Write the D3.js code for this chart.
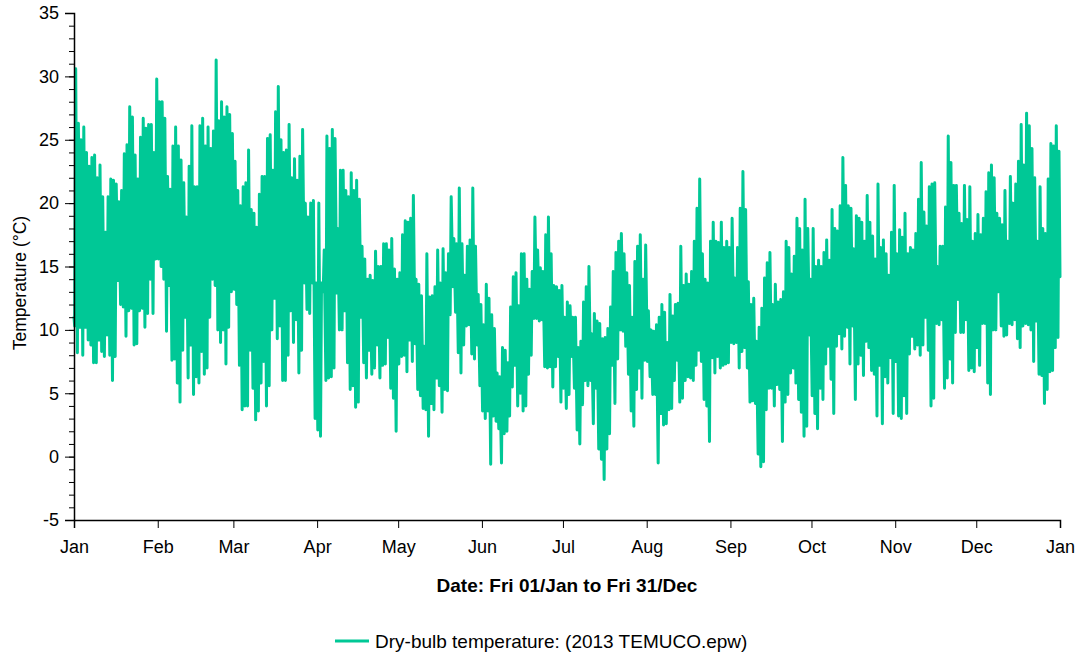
<!DOCTYPE html>
<html>
<head>
<meta charset="utf-8">
<script src="https://cdn.jsdelivr.net/npm/d3@7"></script>
<style>
  body { margin: 0; background: #fff; }
  text { font-family: "Liberation Sans", Arial, sans-serif; }
</style>
</head>
<body>
<script>
// DATA: daily high / low dry-bulb temperature (°C)
const dailyMax = [
  // Jan
  30.6, 26.3, 25.0, 26.0, 24.0, 22.9, 23.6, 23.8, 22.0, 23.0, 20.5, 17.7, 20.5, 21.9, 21.8, 21.5, 20.1, 21.0, 23.9, 24.6, 27.6, 26.8, 23.8, 21.9, 25.2, 26.7, 25.9, 26.2, 26.2, 24.0, 29.8,
  // Feb
  28.0, 28.0, 26.7, 22.1, 21.1, 24.5, 26.0, 24.5, 23.4, 21.6, 18.9, 22.9, 26.1, 21.3, 21.3, 26.1, 26.7, 24.5, 26.0, 24.3, 25.7, 31.3, 26.5, 28.0, 26.8, 27.6, 27.0, 25.5,
  // Mar
  23.3, 21.0, 19.8, 21.3, 21.6, 24.2, 19.5, 19.2, 18.1, 20.7, 22.1, 22.1, 25.1, 25.4, 22.6, 27.2, 29.2, 25.0, 24.0, 24.2, 26.2, 22.0, 23.5, 21.8, 23.7, 25.8, 20.0, 18.9, 20.0, 20.2, 13.7,
  // Apr
  20.0, 13.7, 16.3, 25.3, 24.3, 25.8, 25.1, 18.0, 22.6, 22.6, 21.0, 20.5, 22.4, 21.0, 21.8, 20.3, 16.6, 15.6, 14.0, 14.3, 13.9, 16.2, 15.0, 15.0, 16.8, 16.8, 16.3, 17.2, 14.8, 14.0,
  // May
  14.5, 17.5, 18.6, 18.5, 18.8, 20.6, 14.0, 13.6, 12.7, 8.7, 16.0, 12.6, 12.7, 13.4, 16.3, 13.7, 16.4, 14.5, 16.0, 20.5, 17.2, 16.8, 21.2, 16.8, 14.3, 16.6, 17.1, 21.2, 16.6, 12.8, 12.0,
  // Jun
  10.4, 13.6, 12.5, 11.2, 10.1, 6.6, 6.3, 8.6, 8.4, 7.4, 11.8, 14.2, 14.5, 11.9, 16.0, 16.0, 14.0, 13.2, 14.6, 18.9, 16.3, 14.9, 14.6, 17.5, 18.9, 16.0, 13.5, 13.4, 13.1, 13.5,
  // Jul
  11.0, 12.2, 11.9, 11.0, 11.0, 8.6, 9.1, 12.2, 13.4, 15.0, 9.7, 11.3, 10.7, 10.5, 9.3, 9.4, 10.1, 11.8, 14.6, 16.1, 17.0, 17.6, 16.0, 14.5, 13.5, 11.0, 15.4, 16.6, 17.5, 14.0, 16.7,
  // Aug
  11.5, 10.0, 9.9, 10.4, 11.0, 12.0, 11.4, 9.0, 12.8, 11.1, 12.0, 12.1, 16.6, 13.5, 14.4, 13.6, 14.6, 17.0, 19.6, 21.9, 16.0, 14.0, 13.7, 17.0, 18.5, 17.0, 16.9, 18.5, 16.5, 17.0, 16.5,
  // Sep
  18.8, 14.1, 16.5, 19.6, 22.5, 19.5, 13.8, 12.0, 12.5, 9.1, 10.2, 11.7, 14.1, 15.3, 16.1, 12.0, 13.6, 12.2, 12.4, 13.0, 17.0, 16.5, 14.4, 15.8, 18.8, 18.0, 16.3, 20.3, 18.0, 14.0,
  // Oct
  18.0, 15.0, 15.5, 15.0, 16.1, 17.1, 15.5, 19.5, 18.0, 17.8, 19.8, 23.6, 21.4, 19.8, 19.6, 16.4, 19.0, 18.8, 18.5, 17.0, 20.6, 18.5, 17.4, 15.6, 21.5, 16.5, 17.1, 16.0, 14.3, 17.7, 21.4,
  // Nov
  16.0, 17.9, 17.3, 19.2, 16.0, 16.5, 16.3, 17.6, 20.3, 23.2, 19.3, 18.2, 21.3, 21.5, 21.6, 15.0, 16.6, 16.6, 19.7, 25.3, 23.2, 21.4, 21.4, 19.2, 18.4, 21.4, 18.7, 21.3, 17.0, 17.6,
  // Dec
  19.1, 17.5, 18.8, 20.9, 22.4, 23.0, 22.0, 19.2, 18.8, 18.3, 21.0, 17.0, 22.1, 20.0, 21.5, 23.3, 26.2, 23.0, 27.1, 26.1, 24.3, 22.0, 17.0, 21.3, 18.0, 17.6, 21.9, 24.7, 24.5, 26.1, 24.1
];

const dailyMin = [
  // Jan
  10.3, 8.2, 10.2, 8.0, 10.2, 9.2, 8.8, 7.4, 7.4, 9.2, 8.3, 7.9, 9.6, 8.0, 6.0, 7.9, 13.9, 12.0, 11.8, 9.5, 11.5, 11.7, 8.8, 8.9, 11.5, 11.7, 10.2, 11.3, 14.0, 11.3, 15.6,
  // Feb
  15.6, 15.0, 14.0, 9.9, 13.5, 7.6, 7.7, 5.8, 4.3, 8.4, 11.0, 6.2, 8.8, 4.9, 6.3, 5.8, 8.3, 6.5, 7.0, 11.0, 14.0, 13.5, 10.0, 9.0, 10.0, 7.3, 10.2, 13.0,
  // Mar
  13.2, 12.0, 7.2, 3.7, 4.0, 4.0, 8.4, 5.4, 2.9, 3.6, 5.8, 7.5, 4.0, 5.6, 10.0, 12.5, 9.3, 10.3, 6.0, 6.0, 8.0, 11.5, 9.0, 10.8, 6.6, 8.4, 13.7, 11.6, 11.3, 13.7, 3.0,
  // Apr
  2.1, 1.6, 13.0, 6.0, 6.2, 6.3, 7.0, 12.9, 10.0, 10.0, 11.5, 7.4, 5.3, 5.6, 3.9, 4.3, 11.0, 7.4, 6.2, 8.4, 6.5, 7.0, 8.8, 6.2, 7.2, 7.3, 9.4, 5.4, 4.6, 2.0,
  // May
  7.3, 7.9, 8.0, 6.7, 9.2, 7.5, 8.9, 5.3, 4.8, 3.8, 3.7, 1.6, 4.2, 3.7, 6.2, 5.6, 3.5, 5.3, 5.2, 11.2, 13.4, 11.4, 8.2, 6.6, 8.8, 10.3, 10.4, 8.1, 7.7, 8.8, 5.6,
  // Jun
  3.6, 3.0, 3.6, -0.6, 3.2, 2.8, 2.2, -0.5, 1.8, 2.0, 3.2, 5.5, 7.2, 4.0, 5.0, 3.6, 4.0, 6.5, 8.0, 10.9, 10.9, 10.7, 10.8, 7.1, 7.0, 7.1, 5.5, 7.1, 7.9, 4.3,
  // Jul
  5.4, 3.8, 4.9, 7.9, 5.4, 2.1, 1.0, 4.1, 6.0, 5.6, 6.0, 2.6, 5.4, 0.6, -0.2, -1.8, 0.6, 1.8, 7.2, 4.2, 7.7, 10.0, 9.9, 8.7, 6.5, 3.6, 2.4, 5.3, 7.0, 4.6, 7.6,
  // Aug
  7.5, 6.3, 4.9, 4.9, -0.5, 3.4, 2.5, 2.6, 3.7, 3.8, 6.0, 7.6, 4.3, 4.6, 6.0, 6.3, 6.2, 6.0, 7.2, 8.4, 7.5, 4.5, 4.0, 1.2, 7.8, 6.6, 7.9, 7.0, 7.2, 7.3, 7.4,
  // Sep
  9.0, 8.9, 9.0, 7.0, 8.3, 8.6, 7.0, 4.3, 4.4, 4.2, 0.2, -0.8, -0.4, 3.7, 5.4, 5.4, 4.0, 5.7, 5.3, 1.2, 4.3, 4.9, 6.6, 7.0, 5.8, 4.5, 3.5, 1.6, 2.4, 9.6,
  // Oct
  4.8, 3.4, 2.2, 5.4, 4.5, 7.3, 8.7, 6.1, 3.4, 8.7, 9.7, 8.5, 9.5, 10.2, 7.3, 10.3, 4.5, 7.3, 8.0, 6.4, 9.1, 8.6, 6.8, 6.5, 3.2, 7.2, 2.6, 6.3, 5.8, 7.8, 3.4,
  // Nov
  7.5, 3.2, 3.0, 4.8, 3.4, 8.1, 9.5, 8.5, 8.8, 8.0, 8.8, 11.0, 8.4, 4.0, 4.6, 10.5, 10.4, 10.8, 5.4, 6.2, 7.7, 5.8, 9.8, 12.4, 9.8, 9.8, 10.8, 6.8, 7.0, 6.7,
  // Dec
  8.6, 7.2, 10.5, 10.5, 5.8, 4.9, 10.0, 10.0, 13.0, 10.3, 9.5, 9.6, 10.5, 10.4, 10.8, 9.3, 8.6, 10.3, 10.5, 10.4, 10.0, 7.5, 10.7, 6.5, 6.4, 4.2, 5.3, 6.7, 6.8, 8.6, 9.4
];

const startTemp = 11.0;   // value at 00:00 on 1 Jan
const endTemp = 14.2;     // value at 24:00 on 31 Dec

const yTickValues = [-5, 0, 5, 10, 15, 20, 25, 30, 35];
const yTickLabels = ["-5", "0", "5", "10", "15", "20", "25", "30", "35"];
const monthLabels = ["Jan", "Feb", "Mar", "Apr", "May", "Jun", "Jul", "Aug", "Sep", "Oct", "Nov", "Dec", "Jan"];

const yTitle = "Temperature (°C)";
const xTitle = "Date: Fri 01/Jan to Fri 31/Dec";
const legendLabel = "Dry-bulb temperature: (2013 TEMUCO.epw)";

// BUILD SERIES: low in the early morning, high mid-afternoon
const day0 = new Date(2013, 0, 1);
const hoursFrom = (d, h) => new Date(day0.getTime() + (d * 24 + h) * 3600 * 1000);
const series = [{date: hoursFrom(0, 0), temp: startTemp}];
dailyMax.forEach((mx, i) => {
    series.push({date: hoursFrom(i, 6), temp: dailyMin[i]});
    series.push({date: hoursFrom(i, 15), temp: mx});
});
series.push({date: hoursFrom(365, 0), temp: endTemp});

// DIMENSIONS
var margin = {top: 13, right: 16, bottom: 135, left: 74};
var width = 986;
var height = 507;

var svg = d3.select("body")
    .append("svg")
    .attr("width", 1076)
    .attr("height", 655);

var g = svg.append("g")
    .attr("transform", `translate(${margin.left}, ${margin.top})`);

// SCALES
const x = d3.scaleTime()
    .domain([day0, new Date(2014, 0, 1)])
    .range([0, width]);

const y = d3.scaleLinear()
    .domain([-5, 35])
    .range([height, 0]);

// LINE
const line = d3.line()
    .x(d => x(d.date))
    .y(d => y(d.temp));

g.append("path")
    .datum(series)
    .attr("fill", "none")
    .attr("stroke", "#00c896")
    .attr("stroke-width", 3)
    .attr("stroke-linejoin", "round")
    .attr("stroke-linecap", "round")
    .attr("d", line);

// Y AXIS: minor ticks then major ticks with labels
g.append("g")
    .call(d3.axisLeft(y).tickValues(d3.range(-5, 36, 1)).tickSize(5).tickFormat(""))
    .call(a => a.select(".domain").remove())
    .selectAll("line").attr("stroke", "#000");

const yAxis = g.append("g")
    .call(d3.axisLeft(y).tickValues(yTickValues).tickSize(9).tickPadding(6)
        .tickFormat((d, i) => yTickLabels[i]));
yAxis.selectAll("text").attr("font-size", 18).attr("fill", "#000");
yAxis.select(".domain").attr("stroke", "#000").attr("stroke-width", 1.5);

// X AXIS
const monthTicks = d3.timeMonth.range(day0, new Date(2014, 0, 2));
const xAxis = g.append("g")
    .attr("transform", `translate(0, ${height})`)
    .call(d3.axisBottom(x).tickValues(monthTicks).tickSize(8).tickPadding(12)
        .tickFormat((d, i) => monthLabels[i]));
xAxis.selectAll("text").attr("font-size", 18).attr("fill", "#000");
xAxis.select(".domain").attr("stroke", "#000").attr("stroke-width", 1.5);

// AXIS TITLES
svg.append("text")
    .attr("transform", "rotate(-90)")
    .attr("x", -283)
    .attr("y", 26)
    .attr("text-anchor", "middle")
    .attr("font-size", 17.5)
    .text(yTitle);

svg.append("text")
    .attr("x", 567)
    .attr("y", 592)
    .attr("text-anchor", "middle")
    .attr("font-size", 19)
    .attr("font-weight", "bold")
    .text(xTitle);

// LEGEND
const legend = svg.append("g").attr("transform", "translate(335, 641)");
legend.append("line")
    .attr("x1", 0).attr("x2", 34)
    .attr("stroke", "#00c896")
    .attr("stroke-width", 3);
legend.append("text")
    .attr("x", 40)
    .attr("y", 6.5)
    .attr("font-size", 19)
    .text(legendLabel);
</script>
</body>
</html>
